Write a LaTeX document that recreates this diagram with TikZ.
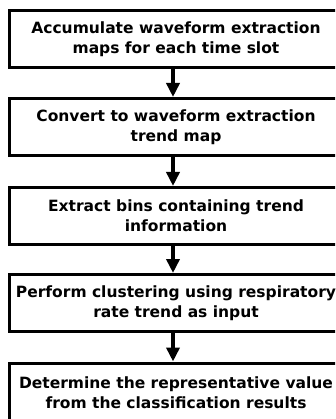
\documentclass[tikz,border=0pt]{standalone}
\usepackage{fontspec}
\setmainfont{DejaVu Sans}
\usetikzlibrary{arrows.meta}
\tikzset{
  stepbox/.style={draw=black, line width=3pt, fill=white, minimum width=334pt,
    minimum height=57pt, inner sep=0pt, align=center,
    font=\bfseries\fontsize{15.5pt}{20pt}\selectfont},
  flowarrow/.style={line width=3.5pt, -{Triangle[width=13pt,length=14pt]}}
}
\begin{document}
\begin{tikzpicture}[x=1pt,y=1pt]
\useasboundingbox (0,0) rectangle (335,-419);
\clip (0,0) rectangle (335,-419);
\node[stepbox] (b1) at (176,-39.5) {Accumulate waveform extraction\\maps for each time slot};
\node[stepbox] (b2) at (176,-127) {Convert to waveform extraction\\trend map};
\node[stepbox] (b3) at (176,-216) {Extract bins containing trend\\information};
\node[stepbox] (b4) at (176,-303) {Perform clustering using respiratory\\rate trend as input};
\node[stepbox, minimum height=59pt] (b5) at (176,-392.5) {Determine the representative value\\from the classification results};
\draw[flowarrow] ([xshift=-3pt]b1.south) -- ([xshift=-3pt]b2.north);
\draw[flowarrow] ([xshift=-3pt]b2.south) -- ([xshift=-3pt]b3.north);
\draw[flowarrow] ([xshift=-3pt]b3.south) -- ([xshift=-3pt]b4.north);
\draw[flowarrow] ([xshift=-3pt]b4.south) -- ([xshift=-3pt]b5.north);
\end{tikzpicture}
\end{document}
